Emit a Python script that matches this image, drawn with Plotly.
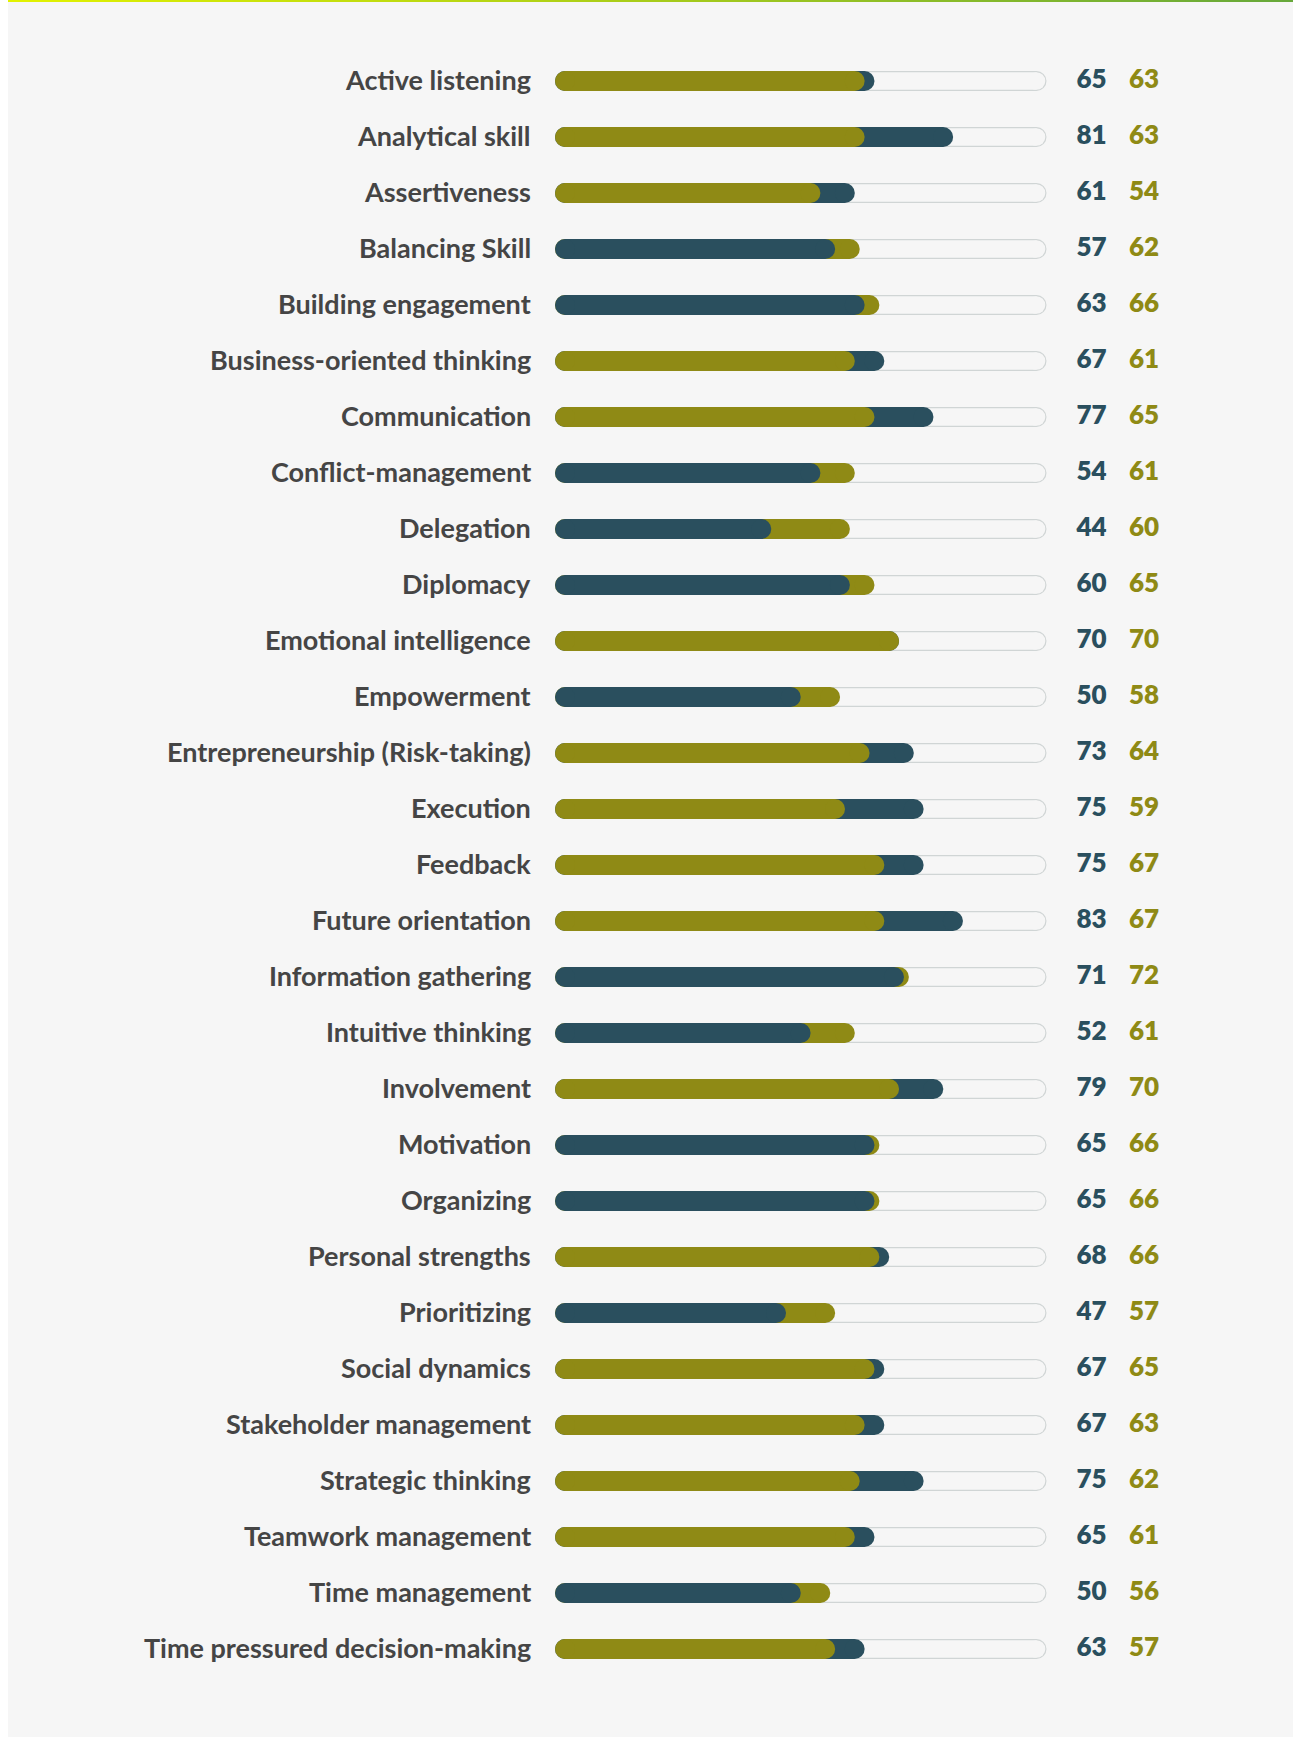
import plotly.graph_objects as go

# ---------------- data ----------------
skills = [
    "Active listening", "Analytical skill", "Assertiveness", "Balancing Skill",
    "Building engagement", "Business-oriented thinking", "Communication",
    "Conflict-management", "Delegation", "Diplomacy", "Emotional intelligence",
    "Empowerment", "Entrepreneurship (Risk-taking)", "Execution", "Feedback",
    "Future orientation", "Information gathering", "Intuitive thinking",
    "Involvement", "Motivation", "Organizing", "Personal strengths",
    "Prioritizing", "Social dynamics", "Stakeholder management",
    "Strategic thinking", "Teamwork management", "Time management",
    "Time pressured decision-making",
]
series_dark = [65, 81, 61, 57, 63, 67, 77, 54, 44, 60, 70, 50, 73, 75, 75, 83,
               71, 52, 79, 65, 65, 68, 47, 67, 67, 75, 65, 50, 63]
series_olive = [63, 63, 54, 62, 66, 61, 65, 61, 60, 65, 70, 58, 64, 59, 67, 67,
                72, 61, 70, 66, 66, 66, 57, 65, 63, 62, 61, 56, 57]
scale_max = 100

# ---------------- styling / layout constants ----------------
W, H = 1293, 1737
ML, MR, MT, MB = 555, 0, 53, 60
PX_PER_UNIT = 4.915
X_MAX = (W - ML - MR) / PX_PER_UNIT
BAR_PX = 20
R = (BAR_PX / 2) / PX_PER_UNIT  # cap radius in data units

DARK = "#2a4f5e"
OLIVE = "#8f8a15"
TRACK_BORDER = "#d0d5d5"
BG = "#f6f6f6"
LABEL_COLOR = "#454545"
FONT = "Lato"

NUM_DARK_X = (1091.5 - ML) / PX_PER_UNIT
NUM_OLIVE_X = (1144 - ML) / PX_PER_UNIT

n = len(skills)


def segs(rows, values):
    xs, ys = [], []
    for i in rows:
        xs += [R, max(values[i] - R, R), None]
        ys += [skills[i], skills[i], None]
    return xs, ys


def pill_trace(rows, values, color, width):
    xs, ys = segs(rows, values)
    return go.Scatter(
        x=xs, y=ys, mode="lines+markers",
        line=dict(color=color, width=width),
        marker=dict(color=color, size=width, line=dict(width=0)),
        hoverinfo="skip", showlegend=False, cliponaxis=False,
    )


all_rows = list(range(n))
track = [scale_max] * n
dark_back = [i for i in all_rows if series_dark[i] >= series_olive[i]]
olive_back = [i for i in all_rows if series_dark[i] < series_olive[i]]

fig = go.Figure()
fig.add_trace(pill_trace(all_rows, track, TRACK_BORDER, BAR_PX))
fig.add_trace(pill_trace(all_rows, track, BG, BAR_PX - 2.4))
fig.add_trace(pill_trace(dark_back, series_dark, DARK, BAR_PX))
fig.add_trace(pill_trace(olive_back, series_olive, OLIVE, BAR_PX))
fig.add_trace(pill_trace(olive_back, series_dark, DARK, BAR_PX))
fig.add_trace(pill_trace(dark_back, series_olive, OLIVE, BAR_PX))

# value labels
fig.add_trace(go.Scatter(
    x=[NUM_DARK_X] * n, y=skills, mode="text",
    text=[str(v) for v in series_dark], textposition="middle center",
    textfont=dict(family=FONT, size=26, color=DARK, weight=800),
    hoverinfo="skip", showlegend=False, cliponaxis=False,
))
fig.add_trace(go.Scatter(
    x=[NUM_OLIVE_X] * n, y=skills, mode="text",
    text=[str(v) for v in series_olive], textposition="middle center",
    textfont=dict(family=FONT, size=26, color=OLIVE, weight=800),
    hoverinfo="skip", showlegend=False, cliponaxis=False,
))

# category labels
annotations = [
    dict(x=0, y=s, xref="x", yref="y", text=s, showarrow=False,
         xanchor="right", yanchor="middle", xshift=-22, yshift=2,
         font=dict(family=FONT, size=27, color=LABEL_COLOR, weight=700))
    for s in skills
]

# background panel and gradient top line (pixel -> paper conversion)
PW = W - ML - MR
PH = H - MT - MB


def px2x(px):
    return (px - ML) / PW


def py2y(py):
    return (H - MB - py) / PH


shapes = [dict(type="rect", xref="paper", yref="paper",
               x0=px2x(8), x1=px2x(W), y0=py2y(H), y1=py2y(0),
               fillcolor=BG, line=dict(width=0), layer="below")]

stops = [(0.0, (226, 242, 0)), (0.5, (168, 204, 26)), (1.0, (102, 168, 58))]


def grad(t):
    for (t0, c0), (t1, c1) in zip(stops[:-1], stops[1:]):
        if t <= t1:
            f = (t - t0) / (t1 - t0)
            return "rgb(%d,%d,%d)" % tuple(round(a + (b - a) * f) for a, b in zip(c0, c1))
    return "rgb(%d,%d,%d)" % stops[-1][1]


NSEG = 120
x_start = 8
seg_w = (W - x_start) / NSEG
for k in range(NSEG):
    shapes.append(dict(
        type="rect", xref="paper", yref="paper",
        x0=px2x(x_start + k * seg_w), x1=px2x(x_start + (k + 1) * seg_w + 0.8),
        y0=py2y(2), y1=py2y(0),
        fillcolor=grad((k + 0.5) / NSEG), line=dict(width=0), layer="below"))

fig.update_layout(
    width=W, height=H,
    margin=dict(l=ML, r=MR, t=MT, b=MB, pad=0),
    paper_bgcolor="white", plot_bgcolor="rgba(0,0,0,0)",
    xaxis=dict(range=[0, X_MAX], visible=False, fixedrange=True),
    yaxis=dict(type="category", categoryarray=skills, categoryorder="array",
               range=[n - 0.5, -0.5], visible=False, fixedrange=True),
    annotations=annotations, shapes=shapes,
    showlegend=False,
)

fig.write_html("out.html", config={"displayModeBar": False})
